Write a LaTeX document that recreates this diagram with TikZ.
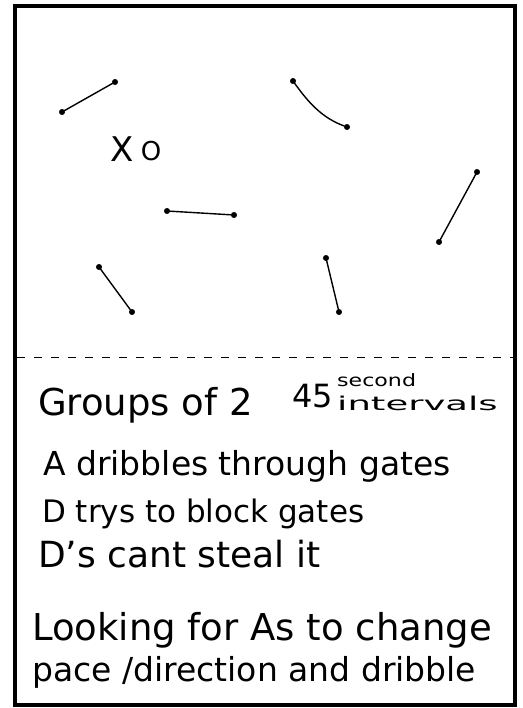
\documentclass[tikz,border=0pt]{standalone}
\usepackage{fontspec}
\setmainfont{DejaVu Sans}
\newcommand{\fsz}[1]{\fontsize{#1}{#1}\selectfont}
\tikzset{
  post/.style={circle, draw=black, fill=black, inner sep=0pt, minimum size=5.5pt},
  gate/.style={line width=1.4pt, line cap=round},
  note/.style={anchor=base west, inner sep=0pt},
}
\begin{document}
\begin{tikzpicture}[x=1pt, y=-1pt]
    \useasboundingbox (0,0) rectangle (522,708);
    % Outer frame and dashed split
    \draw[line width=3.5pt] (15,6) rectangle (515,705);
    \coordinate (splitL) at (17,357);
    \coordinate (splitR) at (513,357);
    \draw[line width=1pt, dash pattern=on 8pt off 9pt] (splitL) -- (splitR);
    % Gates: two posts per gate
    \node[post] (g1a) at (62,112) {};
    \node[post] (g1b) at (115,82) {};
    \node[post] (g2a) at (293,81) {};
    \node[post] (g2b) at (347,127) {};
    \node[post] (g3a) at (477,172) {};
    \node[post] (g3b) at (439,242) {};
    \node[post] (g4a) at (167,211) {};
    \node[post] (g4b) at (234,215) {};
    \node[post] (g5a) at (99,267) {};
    \node[post] (g5b) at (132,312) {};
    \node[post] (g6a) at (326,258) {};
    \node[post] (g6b) at (339,312) {};
    \draw[gate] (g1a) -- (g1b);
    \draw[gate] (g2a) .. controls (308,102) and (322,118) .. (g2b);
    \draw[gate] (g3a) -- (g3b);
    \draw[gate] (g4a) -- (g4b);
    \draw[gate] (g5a) -- (g5b);
    \draw[gate] (g6a) -- (g6b);
    % Players
    \node[font=\fsz{34}, inner sep=0pt] (px) at (122,149) {X};
    \node[font=\fsz{26}, inner sep=0pt] (po) at (151,151) {O};
    % Notes
    \node[note, font=\fsz{37}] (groups) at (38,415) {Groups of 2};
    \node[note, font=\fsz{32}] (secs) at (292,407) {45};
    \node[note, font=\fsz{17}] (intv) at (337,386) {\scalebox{1.3}[1]{second}};
    \node[note, font=\fsz{19}] (intv2) at (337,410) {\scalebox{1.95}[1]{intervals}};
    \node[note, font=\fsz{33}] (adrib) at (43,475) {A dribbles through gates};
    \node[note, font=\fsz{31}] (dblock) at (42,522) {D trys to block gates};
    \node[note, font=\fsz{36}] (dsteal) at (38,567) {D's cant steal it};
    \node[note, font=\fsz{37}] (look) at (32,640) {Looking for As to change};
    \node[note, font=\fsz{33}] (pace) at (32,681) {pace /direction and dribble};
\end{tikzpicture}
\end{document}
